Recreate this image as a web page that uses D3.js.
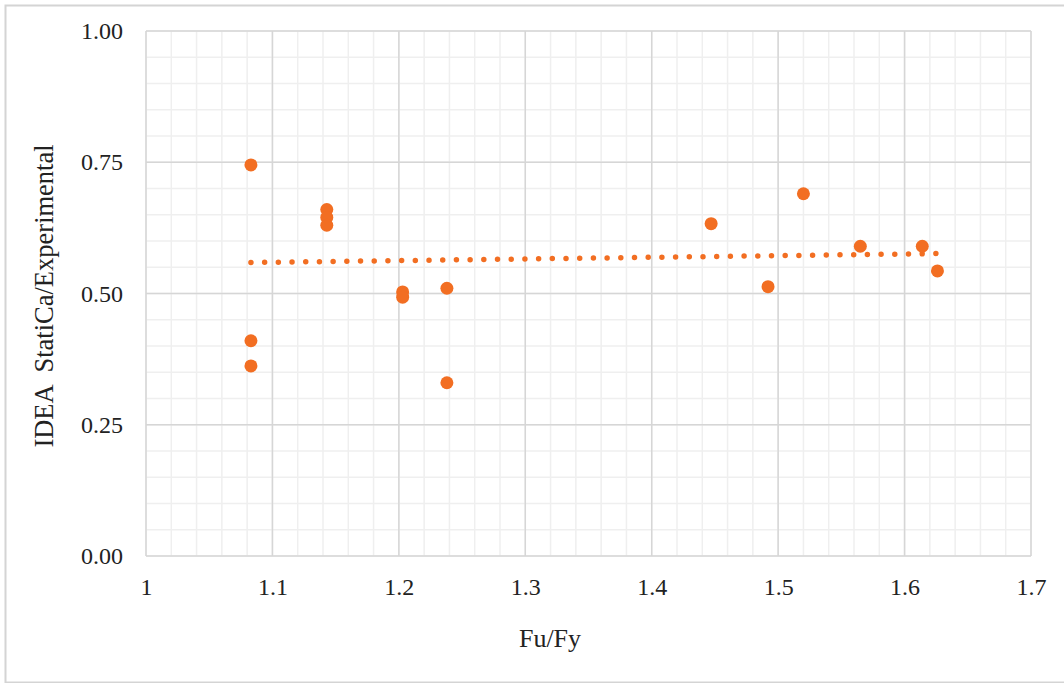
<!DOCTYPE html>
<html>
<head>
<meta charset="utf-8">
<script src="https://cdn.jsdelivr.net/npm/d3@7"></script>
<style>
  body { margin: 0; background: #fff; }
  text { font-family: "Liberation Serif", "Times New Roman", serif; fill: #222; }
</style>
</head>
<body>
<svg id="chart"></svg>
<script>
// values
const fuFy   = [1.083, 1.083, 1.083, 1.143, 1.143, 1.143, 1.203, 1.203, 1.238, 1.238, 1.447, 1.492, 1.520, 1.565, 1.614, 1.626];
const ratio  = [0.745, 0.410, 0.362, 0.660, 0.645, 0.630, 0.503, 0.493, 0.510, 0.330, 0.633, 0.513, 0.690, 0.590, 0.590, 0.543];
const trendX = [1.083, 1.626];
const trendY = [0.559, 0.576];
const xTicks = [1, 1.1, 1.2, 1.3, 1.4, 1.5, 1.6, 1.7];
const yTicks = [0, 0.25, 0.5, 0.75, 1];

const width = 1064;
const height = 683;
const margin = { top: 31, right: 33, bottom: 127, left: 146 };

const svg = d3.select('#chart')
    .attr('width', width)
    .attr('height', height);

// chart frame
svg.append('rect')
    .attr('x', 5.5).attr('y', 5.5)
    .attr('width', width + 10).attr('height', height - 6)
    .attr('fill', 'none')
    .attr('stroke', '#d4d4d4')
    .attr('stroke-width', 2);

const x = d3.scaleLinear().domain([1, 1.7]).range([margin.left, width - margin.right]);
const y = d3.scaleLinear().domain([0, 1]).range([height - margin.bottom, margin.top]);

const g = svg.append('g');

// minor grid
g.selectAll('.vminor')
    .data(d3.range(1, 1.7001, 0.02))
    .enter().append('line')
    .attr('x1', d => x(d)).attr('x2', d => x(d))
    .attr('y1', y(0)).attr('y2', y(1))
    .attr('stroke', '#efefef').attr('stroke-width', 1.5);
g.selectAll('.hminor')
    .data(d3.range(0, 1.0001, 0.05))
    .enter().append('line')
    .attr('y1', d => y(d)).attr('y2', d => y(d))
    .attr('x1', x(1)).attr('x2', x(1.7))
    .attr('stroke', '#efefef').attr('stroke-width', 1.5);

// major grid
g.selectAll('.vmajor')
    .data(xTicks)
    .enter().append('line')
    .attr('x1', d => x(d)).attr('x2', d => x(d))
    .attr('y1', y(0)).attr('y2', y(1))
    .attr('stroke', '#d6d6d6').attr('stroke-width', 1.5);
g.selectAll('.hmajor')
    .data(yTicks)
    .enter().append('line')
    .attr('y1', d => y(d)).attr('y2', d => y(d))
    .attr('x1', x(1)).attr('x2', x(1.7))
    .attr('stroke', '#d6d6d6').attr('stroke-width', 1.5);

// axes, labels only
const xAxis = svg.append('g')
    .attr('transform', `translate(0,${y(0)})`)
    .call(d3.axisBottom(x).tickValues(xTicks).tickFormat(d3.format('')).tickSize(0).tickPadding(22));
const yAxis = svg.append('g')
    .attr('transform', `translate(${margin.left},0)`)
    .call(d3.axisLeft(y).tickValues(yTicks).tickFormat(d3.format('.2f')).tickSize(0).tickPadding(23));
[xAxis, yAxis].forEach(a => {
    a.select('.domain').remove();
    a.selectAll('text')
        .style('font-family', '"Liberation Serif", serif')
        .style('font-size', '24px')
        .attr('fill', '#222');
});

// trendline
svg.append('path')
    .datum(d3.zip(trendX, trendY))
    .attr('d', d3.line().x(d => x(d[0])).y(d => y(d[1])))
    .attr('fill', 'none')
    .attr('stroke', '#f26e22')
    .attr('stroke-width', 5.5)
    .attr('stroke-linecap', 'round')
    .attr('stroke-dasharray', '0 13.7');

// points
svg.selectAll('circle.pt')
    .data(d3.zip(fuFy, ratio))
    .enter().append('circle')
    .attr('class', 'pt')
    .attr('cx', d => x(d[0]))
    .attr('cy', d => y(d[1]))
    .attr('r', 6.5)
    .attr('fill', '#f26e22');

// axis titles
svg.append('text')
    .attr('x', 550).attr('y', 647)
    .attr('text-anchor', 'middle')
    .style('font-size', '26px')
    .text('Fu/Fy');

svg.append('text')
    .attr('transform', 'translate(53,296) rotate(-90)')
    .attr('text-anchor', 'middle')
    .attr('xml:space', 'preserve')
    .style('font-size', '26.5px')
    .text('IDEA  StatiCa/Experimental');
</script>
</body>
</html>
